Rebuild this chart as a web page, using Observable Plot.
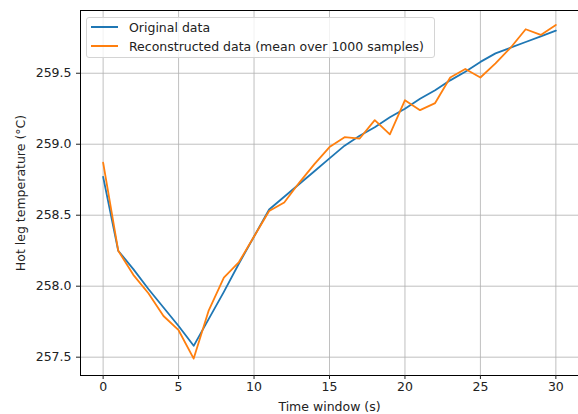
<!DOCTYPE html>
<html>
<head>
<meta charset="utf-8">
<script src="https://cdn.jsdelivr.net/npm/d3@7"></script>
<script src="https://cdn.jsdelivr.net/npm/@observablehq/plot@0.6"></script>
<style>
  html, body { margin: 0; padding: 0; background: #fff; }
  #wrap { position: relative; width: 578px; height: 414px; overflow: hidden; font-family: "DejaVu Sans", sans-serif; }
  #legend { position: absolute; left: 86px; top: 17px; width: 349px; height: 41px;
    border: 1px solid #d4d4d4; border-radius: 3px; background: rgba(255,255,255,0.8);
    font-size: 12.5px; color: #222; box-sizing: border-box; }
  .row { position: absolute; left: 0; height: 16px; display: flex; align-items: center; }
  .sw { display: inline-block; width: 27px; height: 2px; margin-left: 4px; margin-right: 11px; }
</style>
</head>
<body>
<div id="wrap"></div>
<script>
const time = [0,1,2,3,4,5,6,7,8,9,10,11,12,13,14,15,16,17,18,19,20,21,22,23,24,25,26,27,28,29,30];
const original = [258.77,258.25,258.12,257.98,257.85,257.72,257.58,257.77,257.96,258.16,258.35,258.54,258.63,258.72,258.81,258.90,258.99,259.06,259.12,259.19,259.25,259.32,259.38,259.45,259.51,259.58,259.64,259.68,259.72,259.76,259.80];
const reconstructed = [258.87,258.25,258.08,257.95,257.79,257.69,257.49,257.83,258.06,258.17,258.35,258.53,258.59,258.73,258.86,258.98,259.05,259.04,259.17,259.07,259.31,259.24,259.29,259.47,259.53,259.47,259.57,259.68,259.81,259.77,259.84];
const seriesNames = ["Original data", "Reconstructed data (mean over 1000 samples)"];
const seriesColors = ["#1f77b4", "#ff7f0e"];
const xTicks = [0,5,10,15,20,25,30];
const yTicks = [257.5,258.0,258.5,259.0,259.5];
const xLabel = "Time window (s)";
const yLabel = "Hot leg temperature (°C)";

const rows = [];
time.forEach((t, i) => {
  rows.push({t, v: original[i], s: seriesNames[0]});
});
time.forEach((t, i) => {
  rows.push({t, v: reconstructed[i], s: seriesNames[1]});
});

const chart = Plot.plot({
  width: 578,
  height: 414,
  marginLeft: 80,
  marginRight: 0,
  marginTop: 10,
  marginBottom: 39,
  style: { fontFamily: "DejaVu Sans", fontSize: "12.5px", color: "#222", background: "#fff" },
  x: { domain: [-1.5, 31.5] },
  y: { domain: [257.371, 259.942] },
  color: { domain: seriesNames, range: seriesColors },
  marks: [
    Plot.gridX(xTicks, { stroke: "#b0b0b0", strokeOpacity: 1, strokeWidth: 0.8 }),
    Plot.gridY(yTicks, { stroke: "#b0b0b0", strokeOpacity: 1, strokeWidth: 0.8 }),
    Plot.line(rows, { x: "t", y: "v", z: "s", stroke: "s", strokeWidth: 1.8 }),
    Plot.frame({ stroke: "#000", strokeWidth: 1 }),
    Plot.axisX(xTicks, { tickSize: 4, tickPadding: 3, label: null, fill: "#222", tickFormat: d => String(d) }),
    Plot.axisY(yTicks, { tickSize: 4, tickPadding: 5, label: null, fill: "#222", tickFormat: d => d.toFixed(1) }),
    Plot.text([xLabel], { frameAnchor: "bottom", dy: 31, text: d => d, fill: "#222", lineAnchor: "middle", textAnchor: "middle" }),
    Plot.text([yLabel], { frameAnchor: "left", dx: -60, rotate: -90, text: d => d, fill: "#222", lineAnchor: "middle", textAnchor: "middle" })
  ]
});

const wrap = document.getElementById("wrap");
wrap.appendChild(chart);

const legend = document.createElement("div");
legend.id = "legend";
seriesNames.forEach((name, i) => {
  const r = document.createElement("div");
  r.className = "row";
  r.style.top = (i * 19.4 + 1) + "px";
  const sw = document.createElement("span");
  sw.className = "sw";
  sw.style.background = seriesColors[i];
  const tx = document.createElement("span");
  tx.textContent = name;
  r.appendChild(sw);
  r.appendChild(tx);
  legend.appendChild(r);
});
wrap.appendChild(legend);
</script>
</body>
</html>
